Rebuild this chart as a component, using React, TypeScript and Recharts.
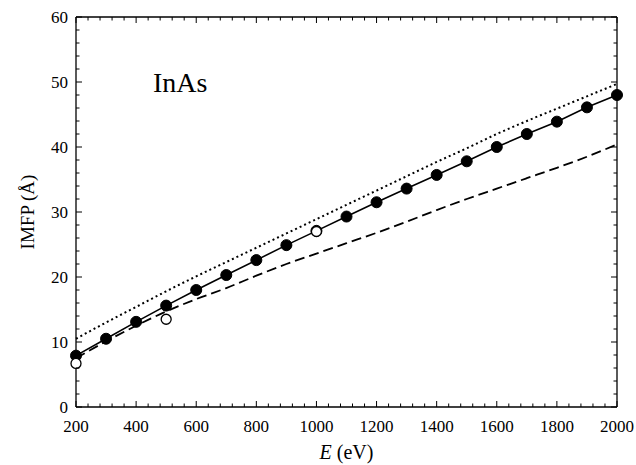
import { ComposedChart, Line, XAxis, YAxis, ReferenceLine } from "recharts";

const energies = [200, 300, 400, 500, 600, 700, 800, 900, 1000, 1100, 1200, 1300, 1400, 1500, 1600, 1700, 1800, 1900, 2000];
const tpp2m = [7.9, 10.5, 13.1, 15.6, 18.0, 20.3, 22.6, 24.9, 27.1, 29.3, 31.5, 33.6, 35.7, 37.8, 40.0, 42.0, 43.9, 46.1, 48.0];
const dottedCurve = [10.5, 13.0, 15.4, 17.8, 20.1, 22.3, 24.5, 26.7, 28.9, 31.1, 33.3, 35.5, 37.7, 39.8, 42.0, 44.0, 45.9, 47.8, 49.7];
const dashedCurve = [7.5, 10.1, 12.5, 14.7, 16.6, 18.3, 20.2, 22.0, 23.6, 25.2, 26.8, 28.5, 30.3, 32.0, 33.6, 35.2, 36.8, 38.5, 40.4];

const openE = [200, 500, 1000];
const openIMFP = [6.7, 13.5, 27.0];

const xMajor = [200, 400, 600, 800, 1000, 1200, 1400, 1600, 1800, 2000];
const yMajor = [0, 10, 20, 30, 40, 50, 60];
const X_MINOR_STEP = 40;
const Y_MINOR_STEP = 2;

const xTicks: number[] = [];
for (let v = 200; v <= 2000; v += X_MINOR_STEP) xTicks.push(v);
const yTicks: number[] = [];
for (let v = 0; v <= 60; v += Y_MINOR_STEP) yTicks.push(v);

const rows = energies.map((E, i) => ({
  E,
  tpp: tpp2m[i],
  dotted: dottedCurve[i],
  dashed: dashedCurve[i],
}));
const openRows = openE.map((E, i) => ({ E, open: openIMFP[i] }));

// plot box in svg pixels
const W = 636;
const H = 465;
const LEFT = 76;
const RIGHT = 617;
const TOP = 17;
const BOTTOM = 407;

const FONT = "'Liberation Serif', 'Times New Roman', serif";

const XTick = (props: any) => {
  const { x, payload } = props;
  const major = xMajor.includes(payload.value);
  const len = major ? 6 : 3.5;
  return (
    <g>
      <line x1={x} y1={BOTTOM} x2={x} y2={BOTTOM - len} stroke="#000" strokeWidth={1} />
      <line x1={x} y1={TOP} x2={x} y2={TOP + len} stroke="#000" strokeWidth={1} />
      {major && (
        <text x={x} y={BOTTOM + 25} textAnchor="middle" fontSize={17} fontFamily={FONT} fill="#000">
          {payload.value}
        </text>
      )}
    </g>
  );
};

const YTick = (props: any) => {
  const { y, payload } = props;
  const major = yMajor.includes(payload.value);
  const len = major ? 6 : 3.5;
  return (
    <g>
      <line x1={LEFT} y1={y} x2={LEFT + len} y2={y} stroke="#000" strokeWidth={1} />
      <line x1={RIGHT} y1={y} x2={RIGHT - len} y2={y} stroke="#000" strokeWidth={1} />
      {major && (
        <text x={LEFT - 8} y={y} dy="0.35em" textAnchor="end" fontSize={17} fontFamily={FONT} fill="#000">
          {payload.value}
        </text>
      )}
    </g>
  );
};

export default function App() {
  return (
    <div style={{ position: "absolute", left: 0, top: 0, width: W, height: H, background: "#fff" }}>
      <ComposedChart width={W} height={H} data={rows} margin={{ top: TOP, right: W - RIGHT, bottom: 0, left: 0 }}>
        <XAxis
          dataKey="E"
          type="number"
          domain={[200, 2000]}
          ticks={xTicks}
          interval={0}
          tick={<XTick />}
          tickLine={false}
          axisLine={{ stroke: "#000", strokeWidth: 1.3 }}
          height={H - BOTTOM}
          label={{
            content: () => (
              <text x={(LEFT + RIGHT) / 2} y={459} textAnchor="middle" fontSize={20} fontFamily={FONT} fill="#000">
                <tspan fontStyle="italic">E</tspan> (eV)
              </text>
            ),
          }}
        />
        <YAxis
          type="number"
          domain={[0, 60]}
          ticks={yTicks}
          interval={0}
          tick={<YTick />}
          tickLine={false}
          axisLine={{ stroke: "#000", strokeWidth: 1.3 }}
          width={LEFT}
          label={{
            content: () => (
              <text
                x={27}
                y={212}
                transform="rotate(-90 27 212)"
                textAnchor="middle"
                dominantBaseline="central"
                fontSize={19}
                fontFamily={FONT}
                fill="#000"
              >
                IMFP (Å)
              </text>
            ),
          }}
        />
        <ReferenceLine y={60} stroke="#000" strokeWidth={1.3} />
        <ReferenceLine x={2000} stroke="#000" strokeWidth={1.3} />
        <Line
          dataKey="dotted"
          stroke="#000"
          strokeWidth={2}
          strokeDasharray="2 3"
          dot={false}
          type="monotone"
          isAnimationActive={false}
        />
        <Line
          dataKey="dashed"
          stroke="#000"
          strokeWidth={1.8}
          strokeDasharray="10 5"
          dot={false}
          type="monotone"
          isAnimationActive={false}
        />
        <Line
          dataKey="tpp"
          stroke="#000"
          strokeWidth={1.6}
          type="linear"
          dot={{ r: 5.5, fill: "#000", stroke: "#000", strokeWidth: 1 }}
          isAnimationActive={false}
        />
        <Line
          data={openRows}
          dataKey="open"
          stroke="none"
          type="linear"
          dot={{ r: 5, fill: "#fff", stroke: "#000", strokeWidth: 1.3 }}
          isAnimationActive={false}
        />
      </ComposedChart>
      <svg width={W} height={H} style={{ position: "absolute", left: 0, top: 0, pointerEvents: "none" }}>
        <text x={153} y={92} fontSize={28} fontFamily={FONT} fill="#000">
          InAs
        </text>
      </svg>
    </div>
  );
}
